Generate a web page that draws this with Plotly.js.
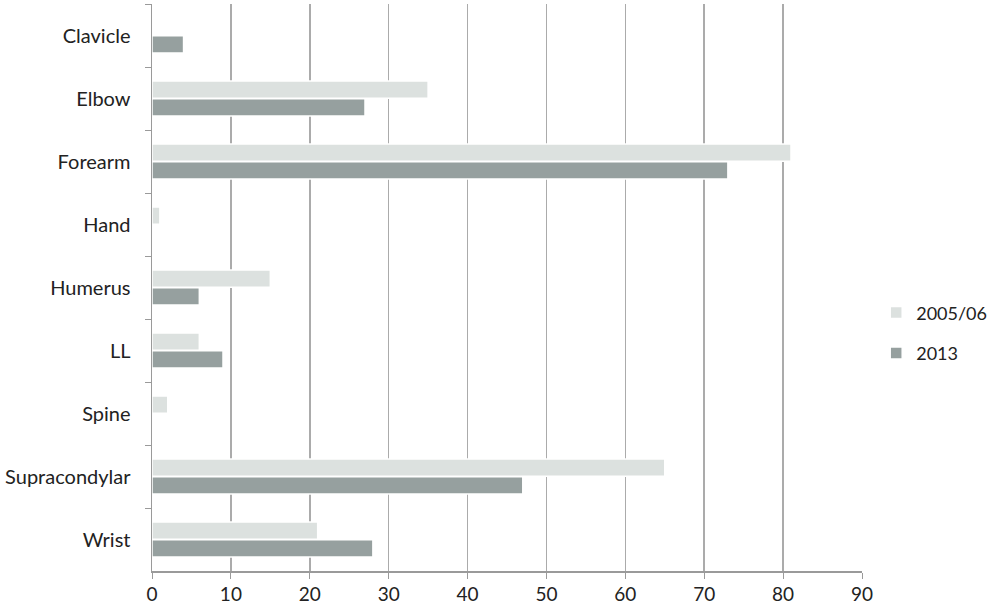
<!DOCTYPE html>
<html>
<head>
<meta charset="utf-8">
<script src="https://cdn.plot.ly/plotly-3.0.1.min.js"></script>
<style>html,body{margin:0;padding:0;background:#fff;}#chart{width:1000px;height:607px;}</style>
</head>
<body>
<div id="chart"></div>
<script>
var categories = ["Clavicle", "Elbow", "Forearm", "Hand", "Humerus", "LL", "Spine", "Supracondylar", "Wrist"];
var values2005 = [0, 35, 81, 1, 15, 6, 2, 65, 21];
var values2013 = [4, 27, 73, 0, 6, 9, 0, 47, 28];
var xTicks = [0, 10, 20, 30, 40, 50, 60, 70, 80, 90];

var traces = [
  {type: "bar", orientation: "h", name: "2005/06", y: categories, x: values2005,
   legendgroup: "a",
   marker: {color: "#dce1df", line: {color: "#ffffff", width: 1.5}}},
  {type: "bar", orientation: "h", name: "2013", y: categories, x: values2013,
   legendgroup: "b",
   marker: {color: "#96a09f", line: {color: "#ffffff", width: 1.5}}}
];

var layout = {
  width: 1000, height: 607,
  margin: {l: 152, r: 138, t: 4, b: 36, autoexpand: false},
  paper_bgcolor: "#ffffff", plot_bgcolor: "#ffffff",
  barmode: "group", bargap: 0.44, bargroupgap: 0.02,
  font: {family: "Lato, 'Open Sans', sans-serif", color: "#222222", size: 20},
  xaxis: {range: [0, 90], tickvals: xTicks, ticktext: xTicks.map(String),
    showgrid: true, gridcolor: "#ababab", gridwidth: 1.5,
    showline: true, linecolor: "#9a9a9a", linewidth: 1.5,
    ticks: "outside", ticklen: 6, tickcolor: "#9a9a9a",
    zeroline: false, tickfont: {size: 19}, fixedrange: true},
  yaxis: {autorange: "reversed", type: "category",
    showline: true, linecolor: "#9a9a9a", linewidth: 1.5,
    ticks: "outside", ticklen: 6, tickcolor: "#9a9a9a", tickson: "boundaries",
    showgrid: false, ticklabelstandoff: 16, tickfont: {size: 20}},
  legend: {x: 1.02, xanchor: "left", y: 0.42, yanchor: "middle",
    font: {size: 18}, tracegroupgap: 14, traceorder: "grouped", bgcolor: "rgba(0,0,0,0)"},
  showlegend: true
};

Plotly.newPlot("chart", traces, layout, {displayModeBar: false, staticPlot: true});
</script>
</body>
</html>
